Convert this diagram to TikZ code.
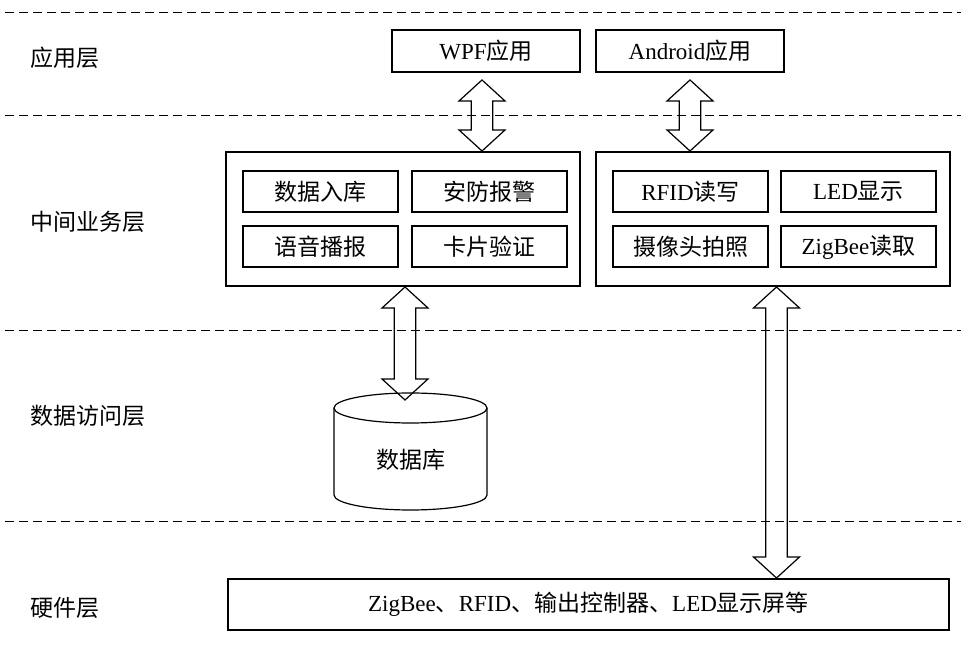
\documentclass[tikz,border=0pt]{standalone}
\usepackage{fontspec}
\setmainfont{Liberation Serif}
\newfontfamily\cjk{Noto Sans CJK SC}
\usetikzlibrary{calc}

% hollow two-headed arrow, x taken from the first point
\newcommand{\dualarrow}[2]{%
  \draw[blockarrow] let \p1=(#1), \p2=(#2) in
    (\x1,\y1) -- (\x1+11.5pt,\y1-10.5pt) -- (\x1+5.4pt,\y1-10.5pt)
    -- (\x1+5.4pt,\y2+10.5pt) -- (\x1+11.5pt,\y2+10.5pt) -- (\x1,\y2)
    -- (\x1-11.5pt,\y2+10.5pt) -- (\x1-5.4pt,\y2+10.5pt)
    -- (\x1-5.4pt,\y1-10.5pt) -- (\x1-11.5pt,\y1-10.5pt) -- cycle;}

\begin{document}
\begin{tikzpicture}[x=0.5pt,y=0.5pt,
  every node/.style={font=\fontsize{11.5}{13}\selectfont},
  layer/.style={anchor=west,inner sep=0pt},
  appbox/.style={draw,line width=1pt,inner sep=0pt,minimum width=94pt,minimum height=21pt},
  groupbox/.style={draw,line width=1pt,minimum width=177pt,minimum height=67pt},
  funcbox/.style={draw,line width=1pt,inner sep=0pt,minimum width=77.5pt,minimum height=20.5pt},
  hwbox/.style={draw,line width=1pt,inner sep=0pt,minimum width=360.5pt,minimum height=25.5pt},
  sepline/.style={dashed,dash pattern=on 4.5pt off 2.5pt,line width=0.5pt},
  blockarrow/.style={line width=0.6pt,line join=miter}]
\useasboundingbox (0,0) rectangle (961,662);

% layer separators
\foreach \ly in {649,546,331,140}
  \draw[sepline] (5,\ly) -- (961,\ly);

% layer names
\node[layer] (lapp) at (30,604) {\cjk 应用层};
\node[layer] (lmid) at (30,440) {\cjk 中间业务层};
\node[layer] (ldata) at (30,246) {\cjk 数据访问层};
\node[layer] (lhw) at (30,54) {\cjk 硬件层};

% applications
\node[appbox] (wpf) at (486,611) {WPF{\cjk 应用}};
\node[appbox] (android) at (690,611) {Android{\cjk 应用}};

% middle layer
\node[groupbox] (midL) at (403,443) {};
\node[groupbox] (midR) at (773,443) {};
\node[funcbox] (store) at (320.5,470.5) {\cjk 数据入库};
\node[funcbox] (alarm) at (489,470.5) {\cjk 安防报警};
\node[funcbox] (voice) at (320.5,415) {\cjk 语音播报};
\node[funcbox] (card) at (489,415) {\cjk 卡片验证};
\node[funcbox] (rfid) at (690.5,470.5) {RFID{\cjk 读写}};
\node[funcbox] (led) at (858.5,470.5) {LED{\cjk 显示}};
\node[funcbox] (camera) at (690.5,415) {\cjk 摄像头拍照};
\node[funcbox] (zigbee) at (858.5,415) {ZigBee{\cjk 读取}};

% database
\draw[line width=0.6pt] (334,254) -- (334,167)
  arc[start angle=180,end angle=360,x radius=76.5,y radius=15] -- (487,254);
\draw[line width=0.6pt] (410.5,254) ellipse[x radius=76.5,y radius=15];
\coordinate (dbtop) at (410.5,269);
\node (db) at (410.5,202) {\cjk 数据库};

% hardware
\node[hwbox] (hw) at (588.5,57.5) {ZigBee{\cjk 、}RFID{\cjk 、输出控制器、}LED{\cjk 显示屏等}};

% links
\dualarrow{$(wpf.south)+(-4,-7)$}{midL.north}
\dualarrow{$(android.south)+(0,-7)$}{midR.north}
\dualarrow{$(midL.south)+(2,0)$}{$(dbtop)+(0,-7)$}
\dualarrow{$(midR.south)+(3.5,0)$}{hw.north}
\end{tikzpicture}
\end{document}
